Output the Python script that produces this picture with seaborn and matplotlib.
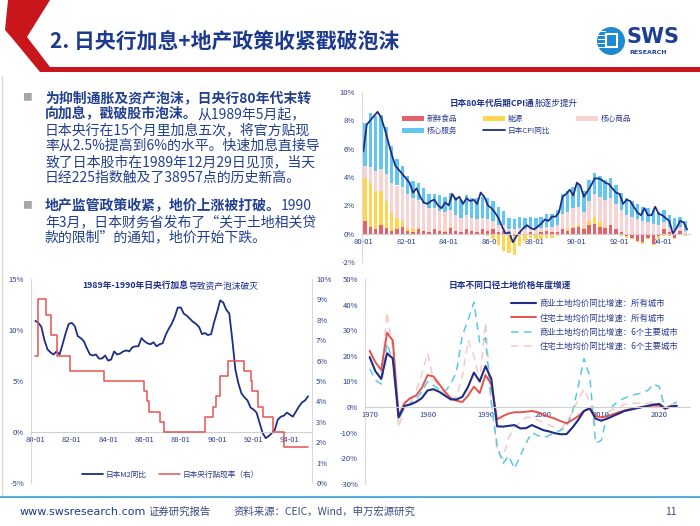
import numpy as np
import pandas as pd
import matplotlib
matplotlib.use('Agg')
import matplotlib.pyplot as plt
import matplotlib.dates as mdates
from matplotlib.patches import Polygon, Circle, Rectangle
from matplotlib.lines import Line2D
from matplotlib.transforms import Affine2D
from matplotlib.ticker import FuncFormatter, MultipleLocator
import seaborn as sns

sns.set_theme(style='white')
plt.rcParams['font.family'] = ['Noto Sans CJK SC', 'DejaVu Sans']
plt.rcParams['axes.unicode_minus'] = False

# ---------------- data ----------------
# CPI components, quarterly from 1980-01 (pct points)
cpi_fresh = [0.9, 0.5, 0.3, 0.6, 0.4, 0.2, 0.3, 0.5, 0.2, 0.1, 0.3, 0.2,
             0.1, 0.3, 0.2, 0.1, 0.4, 0.2, 0.1, 0.3, 0.2, 0.1, 0.3, 0.2,
             0.3, 0.1, 0.2, 0.0, -0.2, 0.1, 0.0, 0.1, 0.0, 0.1, 0.2, 0.1,
             0.1, 0.3, 0.2, 0.4, 0.5, 0.3, 0.6, 0.7, 0.5, 0.4, 0.6, 0.3,
             0.1, -0.2, -0.3, -0.5, -0.6, -0.3, -0.7, -0.2, 0.3, 0.1, -0.3, 0.2,
             -0.1]
cpi_energy = [3.0, 3.1, 2.7, 2.4, 1.9, 1.3, 0.8, 0.4, 0.2, 0.2, 0.1, 0.0,
              -0.1, -0.1, 0.0, 0.1, 0.1, 0.0, 0.0, 0.0, 0.0, -0.1, -0.1, -0.2,
              -0.4, -0.8, -1.2, -1.4, -1.3, -0.9, -0.5, -0.3, -0.4, -0.4, -0.3, -0.3,
              -0.2, 0.0, 0.1, 0.1, 0.1, 0.1, 0.3, 0.5, 0.3, 0.1, -0.1, -0.1,
              -0.2, -0.1, -0.1, -0.1, -0.1, -0.1, -0.1, -0.2, -0.2, -0.2, -0.1, -0.1,
              -0.1]
cpi_goods = [0.9, 1.1, 1.4, 1.6, 1.9, 2.1, 2.3, 2.4, 2.4, 2.2, 2.0, 1.9,
             1.7, 1.5, 1.4, 1.3, 1.2, 1.1, 1.0, 1.0, 0.9, 0.9, 0.8, 0.8,
             0.6, 0.5, 0.4, 0.3, 0.3, 0.3, 0.3, 0.3, 0.3, 0.3, 0.3, 0.4,
             0.5, 1.1, 1.2, 1.3, 1.3, 1.1, 1.4, 1.6, 1.8, 1.9, 1.9, 1.8,
             1.6, 1.3, 1.2, 1.0, 0.9, 0.8, 0.7, 0.6, 0.5, 0.4, 0.3, 0.3,
             0.2]
cpi_serv = [3.0, 3.8, 3.9, 3.8, 3.3, 2.6, 1.9, 1.5, 1.3, 1.2, 1.2, 1.1,
            1.0, 1.0, 1.1, 1.1, 1.2, 1.3, 1.3, 1.4, 1.4, 1.5, 1.5, 1.5,
            1.4, 1.3, 1.0, 0.8, 0.7, 0.8, 0.8, 0.8, 0.8, 0.8, 0.9, 0.9,
            1.1, 1.4, 1.5, 1.5, 1.6, 1.5, 1.5, 1.5, 1.5, 1.4, 1.4, 1.3,
            1.2, 1.2, 1.1, 1.1, 1.0, 1.0, 1.0, 0.9, 0.9, 0.8, 0.8, 0.7,
            0.7]
# Japan CPI yoy, every two months from 1980-01
cpi_yoy = [5.8, 7.7, 8.0, 8.3, 8.6, 8.2,
           7.4, 6.5, 5.6, 4.8, 4.5, 4.2,
           3.9, 3.6, 2.9, 3.2, 2.6, 2.2,
           2.1, 2.3, 2.4, 2.0, 1.8, 2.2,
           2.0, 2.8, 2.4, 2.6, 2.1, 2.5,
           2.3, 2.4, 2.1, 2.9, 2.6, 2.0,
           1.8, 1.5, 1.1, 0.5, 0.0, 0.1,
           -0.6, -0.2, 0.1, 0.4, 0.6, 0.4,
           0.3, 0.5, 0.7, 1.0, 0.9, 1.2,
           1.2, 1.5, 2.6, 2.8, 3.1, 2.7,
           3.6, 3.4, 2.6, 3.0, 3.4, 3.9,
           3.9, 3.8, 3.6, 3.5, 3.2, 2.9,
           2.8, 2.1, 2.4, 2.3, 1.9, 1.5,
           1.3, 1.8, 1.3, 1.3, 1.9, 1.4,
           1.3, 1.1, 0.9, 0.0, 0.4, 0.9,
           0.8, 0.3]

# Japan M2 yoy, every two months from 1980-01
m2_yoy = [10.9, 10.7, 10.3, 9.0, 8.1, 7.8,
          7.6, 7.9, 7.6, 8.6, 9.7, 10.6,
          10.7, 10.4, 9.4, 9.2, 8.9, 8.2,
          7.6, 7.5, 7.6, 7.2, 7.2, 7.5,
          7.0, 7.1, 7.9, 7.6, 7.7, 7.9,
          8.0, 7.9, 8.3, 8.4, 8.4, 9.2,
          8.9, 8.7, 8.6, 8.8, 8.4, 8.6,
          8.7, 9.5, 10.1, 10.6, 11.3, 12.2,
          12.2, 11.6, 11.4, 11.1, 10.8, 10.6,
          10.3, 9.6, 9.7, 9.5, 9.6, 10.8,
          11.8, 12.9, 12.7, 12.0, 11.6, 9.0,
          6.1, 4.8, 3.8, 3.4, 3.1, 2.4,
          2.2, 1.9, 0.9, -0.1, -0.6, -0.4,
          -0.1, 0.2, 1.2, 1.5, 1.6, 1.9,
          1.7, 1.5, 2.0, 2.5, 2.9, 3.1,
          3.5]
# BOJ discount rate change dates
rate_dates = ['1980-01', '1980-03', '1980-08', '1980-11', '1981-03', '1981-12',
              '1983-10', '1986-01', '1986-03', '1986-04', '1986-11', '1987-02',
              '1989-05', '1989-10', '1989-12', '1990-03', '1990-08', '1991-07',
              '1991-11', '1991-12', '1992-04', '1992-07', '1993-02', '1993-09',
              '1995-01']
rate_vals = [6.25, 9.0, 8.25, 7.25, 6.25, 5.5,
             5.0, 4.5, 4.0, 3.5, 3.0, 2.5,
             3.25, 3.75, 4.25, 5.25, 6.0, 5.5,
             5.0, 4.5, 3.75, 3.25, 2.5, 1.75,
             1.75]

# land price yoy, annual 1970-2023
land_years = list(range(1970, 2024))
comm_all = [19.5, 14, 11, 21, 19, -4, 0.5, 1, 2, 3.5,
            6.5, 7, 6, 4.5, 3, 3, 4, 8, 13.5, 10,
            16, 11, -7.5, -7.6, -7.3, -7, -8.3, -8.2, -7, -8,
            -9, -9.5, -10.2, -10.6, -10.5, -8, -5, -1.5, -0.5, -4.5,
            -5.3, -4.5, -3.5, -2.5, -1.5, -1, -0.5, 0, 0.5, 1,
            1.2, -0.5, 0.3, 0.5]
resi_all = [22, 17.5, 14.5, 29, 26, -3.5, 1.5, 3.5, 4.5, 7.5,
            12.5, 12, 9, 6, 3.5, 2.5, 2, 4.5, 8, 5.5,
            12.5, 9, -4.8, -3.5, -2.5, -2, -2, -1.8, -1.5, -2,
            -3, -3.8, -4.5, -5.5, -6.3, -5, -3.5, -1.5, -0.5, -3.5,
            -4, -3.5, -2.8, -2, -1.3, -0.8, -0.3, 0, 0.3, 0.6,
            0.6, -0.6, 0.2, 0.5]
comm_6 = [15, 10.5, 9, 25, 18, -5, 0, 1.5, 3, 6,
          10, 8.5, 7, 6, 9, 14, 28, 34, 41, 25,
          27, 2, -15, -22, -19, -24, -19, -14, -10, -11,
          -12, -11, -10, -9, -7.5, -2, 8, 19, 12, -14,
          -13, -3, 0.5, 2.5, 3.5, 4.5, 5, 5.5, 6.5, 9,
          8, -1, 1, 2]
resi_6 = [20, 14, 12, 37, 22, -8, 0, 2, 6, 13,
          21, 11, 8, 5, 3, 4, 12, 26, 20, 10,
          33, 2, -17, -20, -12, -8, -6, -4, -4, -5,
          -6, -7, -8, -8.5, -6, -2, 3, 7, 2, -7,
          -5, -2, -1, 0, 1, 1.5, 1.5, 1.5, 1.5, 2,
          1.5, -0.5, 1, 1.5]

# ---------------- style ----------------
NAVY = '#1f2d86'
TXT = '#2b3b8e'
RED = '#e5534f'
BODY = '#22408f'

fig = plt.figure(figsize=(7, 5.26), dpi=100)
PX = Affine2D().scale(0.01, -0.01).translate(0, 5.26) + fig.dpi_scale_trans


def rect(x0, y0, x1, y1):
    return [x0 / 700, 1 - y1 / 526, (x1 - x0) / 700, (y1 - y0) / 526]


def pct(v, pos):
    return f'{v:.0f}%'


def base_style(ax):
    ax.set_facecolor('none')
    ax.spines['top'].set_visible(False)
    ax.spines['right'].set_visible(False)
    ax.spines['left'].set_color('#d9d9d9')
    ax.spines['left'].set_linewidth(0.8)
    ax.spines['bottom'].set_position(('data', 0))
    ax.spines['bottom'].set_color('#d0d0d0')
    ax.spines['bottom'].set_linewidth(0.8)
    ax.tick_params(axis='both', length=0, labelsize=5.5, labelcolor=TXT)
    ax.tick_params(axis='y', pad=5)
    ax.tick_params(axis='x', pad=3)
    ax.yaxis.set_major_formatter(FuncFormatter(pct))
    ax.set_xlabel('')
    ax.set_ylabel('')


# overlay for slide decorations and text
ax0 = fig.add_axes([0, 0, 1, 1])
ax0.axis('off')
ax0.set_zorder(-1)

ax0.add_patch(Polygon([(8, 0), (50, 0), (27, 37), (50, 67), (700, 67), (700, 72),
                       (40, 72), (12, 38), (5, 30)], closed=True, transform=PX,
                      color='#c9161d', lw=0))
ax0.text(50, 41, '2. 日央行加息+地产政策收紧戳破泡沫', transform=PX, fontsize=15,
         fontweight='bold', color='#1d3a8f', va='center', ha='left')

# logo
ax0.add_patch(Circle((611, 41), 14, transform=PX, color='#1e88d0', lw=0))
for yy in [31, 35, 39, 43, 47]:
    ax0.add_patch(Rectangle((598, yy), 8, 1.3, transform=PX, color='white', lw=0))
ax0.add_patch(Rectangle((606, 34), 11, 13, transform=PX, fill=False,
                        edgecolor='white', lw=1.5))
ax0.text(627, 37, 'SWS', transform=PX, fontsize=15, fontweight='bold',
         color='#1b3f95', va='center', ha='left', family='DejaVu Sans')
ax0.text(629, 52, 'RESEARCH', transform=PX, fontsize=4.5, fontweight='bold',
         color='#1b3f95', va='center', ha='left', family='DejaVu Sans')

# left border and footer
ax0.add_line(Line2D([2, 2], [76, 497], transform=PX, color='#d9d9d9', lw=1))
ax0.add_line(Line2D([0, 700], [497, 497], transform=PX, color='#55b0dc', lw=1.5))
ax0.text(20, 512, 'www.swsresearch.com', transform=PX, fontsize=8, color='#1f3a8f',
         va='center', family='DejaVu Sans')
ax0.text(148, 512, '证券研究报告', transform=PX, fontsize=7.5, color='#3a4a80', va='center')
ax0.text(234, 512, '资料来源：CEIC，Wind，申万宏源研究', transform=PX, fontsize=7.5,
         color='#3a4a80', va='center')
ax0.text(665, 512, '11', transform=PX, fontsize=7.5, color='#3a4a80', va='center')


def two_part(x, y, bold, normal, size, color):
    t = ax0.text(x, y, bold, transform=PX, fontsize=size, fontweight='bold',
                 color=color, va='center', ha='left')
    if normal:
        ax0.annotate(normal, xy=(1, 0), xycoords=t, va='bottom', ha='left',
                     fontsize=size, color=color, annotation_clip=False)
    return t


# bullet text
for by in [97, 205]:
    ax0.text(22, by, '■', transform=PX, fontsize=7, color='#a6a6a6', va='center')
two_part(45, 98, '为抑制通胀及资产泡沫，日央行80年代末转', '', 10, BODY)
two_part(45, 114, '向加息，戳破股市泡沫。', '从1989年5月起，', 10, BODY)
body = ['日本央行在15个月里加息五次，将官方贴现',
        '率从2.5%提高到6%的水平。快速加息直接导',
        '致了日本股市在1989年12月29日见顶，当天',
        '日经225指数触及了38957点的历史新高。']
for i, line in enumerate(body):
    ax0.text(45, 130 + 16 * i, line, transform=PX, fontsize=10, color=BODY, va='center')
two_part(45, 206, '地产监管政策收紧，地价上涨被打破。', '1990', 10, BODY)
ax0.text(45, 222, '年3月，日本财务省发布了“关于土地相关贷', transform=PX, fontsize=10,
         color=BODY, va='center')
ax0.text(45, 237, '款的限制”的通知，地价开始下跌。', transform=PX, fontsize=10,
         color=BODY, va='center')

# ---------------- chart 1: CPI ----------------
ax1 = fig.add_axes(rect(362, 92, 690, 262))
q_dates = pd.date_range('1980-01-01', periods=len(cpi_fresh), freq='QS')
b_dates = pd.date_range('1980-01-01', periods=len(cpi_yoy), freq='2MS')
comps = [(cpi_fresh, '#e8606a', '新鲜食品'), (cpi_energy, '#fdd54f', '能源'),
         (cpi_goods, '#f8d3d3', '核心商品'), (cpi_serv, '#62c6f0', '核心服务')]
pos = np.zeros(len(q_dates))
neg = np.zeros(len(q_dates))
bar_handles = {}
for vals, col, lab in comps:
    v = np.array(vals, dtype=float)
    bottom = np.where(v >= 0, pos, neg)
    bars = ax1.bar(q_dates, v, bottom=bottom, width=58, align='edge', color=col,
                   linewidth=0, label=lab)
    bar_handles[lab] = bars
    pos += np.clip(v, 0, None)
    neg += np.clip(v, None, 0)
sns.lineplot(x=b_dates, y=cpi_yoy, ax=ax1, color=NAVY, lw=1.3, label='日本CPI同比')
base_style(ax1)
ax1.set_xlim(pd.Timestamp('1979-12-10'), pd.Timestamp('1995-04-20'))
ax1.set_ylim(-2, 10)
ax1.yaxis.set_major_locator(MultipleLocator(2))
ax1.xaxis.set_major_locator(mdates.YearLocator(2))
ax1.xaxis.set_major_formatter(mdates.DateFormatter('%y-%m'))
cpi_line = ax1.get_lines()[-1]
h = [bar_handles['新鲜食品'], bar_handles['核心服务'], bar_handles['能源'], cpi_line,
     bar_handles['核心商品']]
l = ['新鲜食品', '核心服务', '能源', '日本CPI同比', '核心商品']
ax1.legend(h, l, ncol=3, loc='upper left', bbox_to_anchor=(402, 115), bbox_transform=PX,
           frameon=False, fontsize=5.5, handlelength=2.9, handleheight=0.6,
           handletextpad=0.3, columnspacing=3.4, labelspacing=0.5, borderpad=0,
           borderaxespad=0, labelcolor=TXT)
two_part(450, 103, '日本80年代后期CPI通', '胀逐步提升', 6.2, '#1d2f8a')

# ---------------- chart 2: M2 and discount rate ----------------
ax2 = fig.add_axes(rect(31, 279, 312, 483))
m2_dates = pd.date_range('1980-01-01', periods=len(m2_yoy), freq='2MS')
sns.lineplot(x=m2_dates, y=m2_yoy, ax=ax2, color=NAVY, lw=1.3)
ax2r = ax2.twinx()
sns.lineplot(x=pd.to_datetime(rate_dates), y=rate_vals, ax=ax2r, color=RED, lw=1.1,
             drawstyle='steps-post')
base_style(ax2)
ax2.set_xlim(pd.Timestamp('1979-10-05'), pd.Timestamp('1995-03-20'))
ax2.set_ylim(-5, 15)
ax2.yaxis.set_major_locator(MultipleLocator(5))
ax2.xaxis.set_major_locator(mdates.YearLocator(2))
ax2.xaxis.set_major_formatter(mdates.DateFormatter('%y-%m'))
ax2r.set_facecolor('none')
for s in ['top', 'bottom', 'left']:
    ax2r.spines[s].set_visible(False)
ax2r.spines['right'].set_color('#d9d9d9')
ax2r.spines['right'].set_linewidth(0.8)
ax2r.set_ylim(0, 10)
ax2r.yaxis.set_major_locator(MultipleLocator(1))
ax2r.yaxis.set_major_formatter(FuncFormatter(pct))
ax2r.tick_params(axis='y', length=0, labelsize=5.5, labelcolor=TXT, pad=3)
ax2r.set_ylabel('')
ax2.legend([ax2.get_lines()[0], ax2r.get_lines()[0]], ['日本M2同比', '日本央行贴现率（右）'],
           ncol=2, loc='upper left', bbox_to_anchor=(82, 471), bbox_transform=PX,
           frameon=False, fontsize=5.5, handlelength=2.8, handletextpad=0.3,
           columnspacing=1.6, borderpad=0, borderaxespad=0, labelcolor=TXT)
two_part(82, 286, '1989年-1990年日央行加息', '导致资产泡沫破灭', 6.3, '#1d2f8a')

# ---------------- chart 3: land prices ----------------
ax3 = fig.add_axes(rect(365, 279, 690, 484))
sns.lineplot(x=land_years, y=resi_6, ax=ax3, color='#f6c9c9', lw=1.1,
             linestyle=(0, (5, 3.5)), label='住宅土地均价同比增速：6个主要城市')
sns.lineplot(x=land_years, y=comm_6, ax=ax3, color='#5cc8e6', lw=1.1,
             linestyle=(0, (5, 3.5)), label='商业土地均价同比增速：6个主要城市')
sns.lineplot(x=land_years, y=resi_all, ax=ax3, color=RED, lw=1.4,
             label='住宅土地均价同比增速：所有城市')
sns.lineplot(x=land_years, y=comm_all, ax=ax3, color=NAVY, lw=1.5,
             label='商业土地均价同比增速：所有城市')
base_style(ax3)
ax3.set_xlim(1969.2, 2025.3)
ax3.set_ylim(-30, 50)
ax3.yaxis.set_major_locator(MultipleLocator(10))
ax3.xaxis.set_major_locator(MultipleLocator(10))
ax3.xaxis.set_major_formatter(FuncFormatter(lambda v, p: f'{v:.0f}'))
lines3 = ax3.get_lines()[::-1]
ax3.legend(lines3, [ln.get_label() for ln in lines3], loc='upper left',
           bbox_to_anchor=(511, 299), bbox_transform=PX, frameon=False, fontsize=6,
           handlelength=3.0, handletextpad=0.4, labelspacing=0.65, borderpad=0,
           borderaxespad=0, labelcolor=TXT)
ax0.text(510, 285, '日本不同口径土地价格年度增速', transform=PX, fontsize=6.3,
         fontweight='bold', color='#1d2f8a', va='center', ha='center')

fig.savefig('out.png', dpi=100)
